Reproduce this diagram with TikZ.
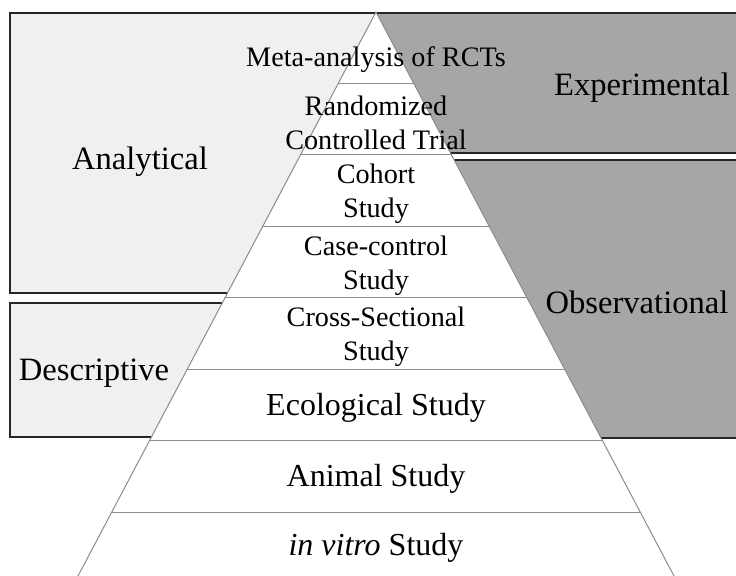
\documentclass[tikz,border=0pt]{standalone}
\usepackage{fontspec}
\setmainfont{Liberation Serif}
\usepackage{xcolor}
\usetikzlibrary{calc}

\definecolor{lightbox}{HTML}{F0F0F0}
\definecolor{darkbox}{HTML}{A6A6A6}

\begin{document}
\begin{tikzpicture}[x=0.5pt,y=-0.5pt,
    frame/.style={draw=black!85, line width=0.8pt},
    edge/.style={draw=black!45, line width=0.5pt},
    group/.style={font=\fontsize{16.3}{19}\selectfont, align=center},
    tier/.style={font=\fontsize{14.1}{17}\selectfont, align=center},
    tierbig/.style={font=\fontsize{16}{19}\selectfont, align=center}]

    \useasboundingbox (0,0) rectangle (736,576);

    \coordinate (apex) at (376,12);
    \coordinate (bl) at (78,576);
    \coordinate (br) at (674,576);
    \foreach \n/\y in {a/13,b/153,c/160,d/293,e/303,f/437,g/438}{
        \coordinate (L\n) at ($(apex)!{(\y-12)/564}!(bl)$);
        \coordinate (R\n) at ($(apex)!{(\y-12)/564}!(br)$);
    }

    % group boxes
    \fill[lightbox] (10,13) -- (La) -- (Ld) -- (10,293) -- cycle;
    \draw[frame] (La) -- (10,13) -- (10,293) -- (Ld);
    \fill[lightbox] (10,303) -- (Le) -- (Lf) -- (10,437) -- cycle;
    \draw[frame] (Le) -- (10,303) -- (10,437) -- (Lf);
    \fill[darkbox] (Ra) -- (736,13) -- (736,153) -- (Rb) -- cycle;
    \draw[frame] (Ra) -- (736,13);
    \draw[frame] (Rb) -- (736,153);
    \fill[darkbox] (Rc) -- (736,160) -- (736,438) -- (Rg) -- cycle;
    \draw[frame] (Rc) -- (736,160);
    \draw[frame] (Rg) -- (736,438);

    % pyramid
    \draw[edge] (bl) -- (apex) -- (br);
    \foreach \k in {1,...,7}
        \draw[edge] ($(apex)!{\k*71.5/564}!(bl)$) -- ($(apex)!{\k*71.5/564}!(br)$);

    \node[group] (analytical) at (140,162) {Analytical};
    \node[group] (descriptive) at (94,373) {Descriptive};
    \node[group] (experimental) at (642,88) {Experimental};
    \node[group] (observational) at (637,302) {Observational};

    \node[tier] (meta) at (376,60) {Meta-analysis of RCTs};
    \node[tier] (rct) at (376,123) {Randomized\\Controlled Trial};
    \node[tier] (cohort) at (376,194) {Cohort\\Study};
    \node[tier] (casecontrol) at (376,266) {Case-control\\Study};
    \node[tier] (crosssec) at (376,337) {Cross-Sectional\\Study};
    \node[tierbig] (ecological) at (376,408) {Ecological Study};
    \node[tierbig] (animal) at (376,479) {Animal Study};
    \node[tierbig] (invitro) at (376,548) {\textit{in vitro} Study};
\end{tikzpicture}
\end{document}
